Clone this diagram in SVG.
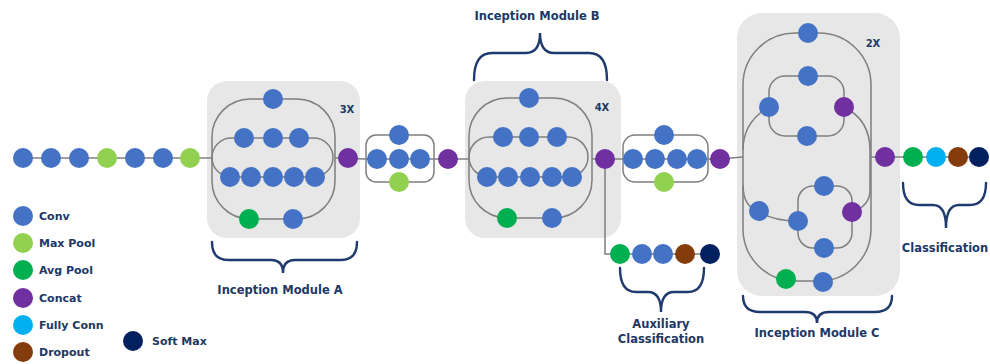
<svg xmlns="http://www.w3.org/2000/svg" width="990" height="364" viewBox="0 0 990 364">
<style>
.box{fill:#e7e7e7;stroke:none}
.ln{fill:none;stroke:#7f7f7f;stroke-width:1.5}
.br{fill:none;stroke:#1f3a6e;stroke-width:2.4;stroke-linecap:round}
.cv{fill:#4472c4}
.mp{fill:#92d050}
.ap{fill:#00b050}
.cc{fill:#7030a0}
.fc{fill:#00b0f0}
.dr{fill:#843c0c}
.sm{fill:#002060}
text{font-family:"DejaVu Sans","Liberation Sans",sans-serif;font-weight:bold;fill:#203864;font-size:11px}
.t{text-anchor:middle;font-size:11.5px}
.x{font-size:10px;text-anchor:middle}
</style>
<g id="modules-bg">
<rect class="box" x="207" y="81" width="153" height="157" rx="20"/>
<rect class="box" x="465" y="81" width="156" height="157" rx="20"/>
<rect class="box" x="737" y="13" width="163" height="283" rx="25"/>
</g>
<g id="connectors">
<line class="ln" x1="23" y1="158" x2="212" y2="158"/>
<rect class="ln" x="212" y="99" width="123" height="120" rx="38"/>
<rect class="ln" x="212" y="138" width="121" height="39" rx="19.5"/>
<line class="ln" x1="335" y1="158" x2="348" y2="158"/>
<line class="ln" x1="348" y1="158.5" x2="366" y2="159"/>
<rect class="ln" x="366" y="135" width="68" height="47" rx="10"/>
<line class="ln" x1="366" y1="159" x2="469" y2="159"/>
<rect class="ln" x="469" y="98" width="123" height="120" rx="38"/>
<rect class="ln" x="469" y="137" width="119" height="40" rx="20"/>
<line class="ln" x1="592" y1="159" x2="623" y2="159"/>
<path class="ln" d="M605,160 V254 H620"/>
<line class="ln" x1="620" y1="254" x2="710" y2="254"/>
<rect class="ln" x="623" y="135" width="85" height="47" rx="12"/>
<line class="ln" x1="623" y1="159" x2="720" y2="159"/>
<line class="ln" x1="720" y1="159" x2="743" y2="157"/>
<rect class="ln" x="743" y="33" width="128" height="248" rx="52"/>
<rect class="ln" x="769" y="76" width="75" height="60" rx="16"/>
<path class="ln" d="M769,107 Q743,122 743,150"/>
<path class="ln" d="M743,185 Q743,207 759,211 Q772,221 798,221"/>
<path class="ln" d="M844,107 Q870,120 870,150 L870,190 Q870,206 852,212"/>
<rect class="ln" x="798" y="186" width="54" height="62" rx="15"/>
<line class="ln" x1="871" y1="157" x2="979" y2="157"/>
</g>
<g id="braces">
<path class="br" d="M474,80 Q474,53 492,53 L526,53 Q540,53 540,33 Q540,53 554,53 L589,53 Q607,53 607,80"/>
<path class="br" d="M212,242 Q212,260 228,260 L271,260 Q283,260 283,273 Q283,260 295,260 L341,260 Q357,260 357,242"/>
<path class="br" d="M620,268 Q620,292 636,292 L648,292 Q661,292 661,312 Q661,292 674,292 L688,292 Q704,292 704,268"/>
<path class="br" d="M743,296 Q743,312 760,312 L805,312 Q817,312 817,323 Q817,312 829,312 L875,312 Q892,312 892,296"/>
<path class="br" d="M903,183 Q903,205 919,205 L933,205 Q946,205 946,228 Q946,205 959,205 L970,205 Q986,205 986,183"/>
</g>
<g id="stem">
<g id="s1"><circle class="cv" cx="23" cy="158" r="10"/></g>
<g id="s2"><circle class="cv" cx="51" cy="158" r="10"/></g>
<g id="s3"><circle class="cv" cx="79" cy="158" r="10"/></g>
<g id="s4"><circle class="mp" cx="107" cy="158" r="10"/></g>
<g id="s5"><circle class="cv" cx="135" cy="158" r="10"/></g>
<g id="s6"><circle class="cv" cx="163" cy="158" r="10"/></g>
<g id="s7"><circle class="mp" cx="190" cy="158" r="10"/></g>
</g>
<g id="moduleA">
<g id="a1"><circle class="cv" cx="273" cy="99" r="10"/></g>
<g id="a2"><circle class="cv" cx="244" cy="138" r="10"/></g>
<g id="a3"><circle class="cv" cx="273" cy="138" r="10"/></g>
<g id="a4"><circle class="cv" cx="299" cy="138" r="10"/></g>
<g id="a5"><circle class="cv" cx="230" cy="177" r="10"/></g>
<g id="a6"><circle class="cv" cx="251" cy="177" r="10"/></g>
<g id="a7"><circle class="cv" cx="273" cy="177" r="10"/></g>
<g id="a8"><circle class="cv" cx="294" cy="177" r="10"/></g>
<g id="a9"><circle class="cv" cx="315" cy="177" r="10"/></g>
<g id="a10"><circle class="ap" cx="249" cy="219" r="10"/></g>
<g id="a11"><circle class="cv" cx="293" cy="219" r="10"/></g>
<g id="a12"><circle class="cc" cx="348" cy="158" r="10"/></g>
<text class="x" x="347" y="113">3X</text>
</g>
<g id="reductionA">
<g id="r1"><circle class="cv" cx="399" cy="135" r="10"/></g>
<g id="r2"><circle class="cv" cx="377" cy="159" r="10"/></g>
<g id="r3"><circle class="cv" cx="399" cy="159" r="10"/></g>
<g id="r4"><circle class="cv" cx="420" cy="159" r="10"/></g>
<g id="r5"><circle class="mp" cx="399" cy="182" r="10"/></g>
<g id="r6"><circle class="cc" cx="448" cy="159" r="10"/></g>
</g>
<g id="moduleB">
<g id="b1"><circle class="cv" cx="529" cy="98" r="10"/></g>
<g id="b2"><circle class="cv" cx="503" cy="137" r="10"/></g>
<g id="b3"><circle class="cv" cx="529" cy="137" r="10"/></g>
<g id="b4"><circle class="cv" cx="557" cy="137" r="10"/></g>
<g id="b5"><circle class="cv" cx="487" cy="177" r="10"/></g>
<g id="b6"><circle class="cv" cx="508" cy="177" r="10"/></g>
<g id="b7"><circle class="cv" cx="530" cy="177" r="10"/></g>
<g id="b8"><circle class="cv" cx="552" cy="177" r="10"/></g>
<g id="b9"><circle class="cv" cx="572" cy="177" r="10"/></g>
<g id="b10"><circle class="ap" cx="507" cy="218" r="10"/></g>
<g id="b11"><circle class="cv" cx="552" cy="218" r="10"/></g>
<g id="b12"><circle class="cc" cx="605" cy="159" r="10"/></g>
<text class="x" x="602" y="111">4X</text>
</g>
<g id="aux">
<g id="x1"><circle class="ap" cx="620" cy="254" r="10"/></g>
<g id="x2"><circle class="cv" cx="642" cy="254" r="10"/></g>
<g id="x3"><circle class="cv" cx="663" cy="254" r="10"/></g>
<g id="x4"><circle class="dr" cx="685" cy="254" r="10"/></g>
<g id="x5"><circle class="sm" cx="710" cy="254" r="10"/></g>
</g>
<g id="reductionB">
<g id="q1"><circle class="cv" cx="664" cy="135" r="10"/></g>
<g id="q2"><circle class="cv" cx="633" cy="159" r="10"/></g>
<g id="q3"><circle class="cv" cx="655" cy="159" r="10"/></g>
<g id="q4"><circle class="cv" cx="677" cy="159" r="10"/></g>
<g id="q5"><circle class="cv" cx="697" cy="159" r="10"/></g>
<g id="q6"><circle class="mp" cx="664" cy="182" r="10"/></g>
<g id="q7"><circle class="cc" cx="720" cy="159" r="10"/></g>
</g>
<g id="moduleC">
<g id="c1"><circle class="cv" cx="808" cy="33" r="10"/></g>
<g id="c2"><circle class="cv" cx="808" cy="76" r="10"/></g>
<g id="c3"><circle class="cv" cx="769" cy="107" r="10"/></g>
<g id="c4"><circle class="cc" cx="844" cy="107" r="10"/></g>
<g id="c5"><circle class="cv" cx="807" cy="136" r="10"/></g>
<g id="c6"><circle class="cv" cx="824" cy="186" r="10"/></g>
<g id="c7"><circle class="cv" cx="759" cy="211" r="10"/></g>
<g id="c8"><circle class="cv" cx="798" cy="221" r="10"/></g>
<g id="c9"><circle class="cc" cx="852" cy="212" r="10"/></g>
<g id="c10"><circle class="cv" cx="824" cy="248" r="10"/></g>
<g id="c11"><circle class="ap" cx="786" cy="279" r="10"/></g>
<g id="c12"><circle class="cv" cx="823" cy="282" r="10"/></g>
<g id="c13"><circle class="cc" cx="885" cy="157" r="10"/></g>
<text class="x" x="873" y="47">2X</text>
</g>
<g id="classifier">
<g id="k1"><circle class="ap" cx="913" cy="157" r="10"/></g>
<g id="k2"><circle class="fc" cx="936" cy="157" r="10"/></g>
<g id="k3"><circle class="dr" cx="958" cy="157" r="10"/></g>
<g id="k4"><circle class="sm" cx="979" cy="157" r="10"/></g>
</g>
<g id="labels">
<text class="t" x="537" y="20">Inception Module B</text>
<text class="t" x="280" y="294">Inception Module A</text>
<text class="t" x="817" y="337">Inception Module C</text>
<text class="t" x="661" y="328">Auxiliary</text>
<text class="t" x="661" y="343">Classification</text>
<text class="t" x="945" y="252">Classification</text>
</g>
<g id="legend">
<g id="l1"><circle class="cv" cx="23" cy="216" r="10"/><text x="39" y="220">Conv</text></g>
<g id="l2"><circle class="mp" cx="23" cy="243" r="10"/><text x="39" y="247">Max Pool</text></g>
<g id="l3"><circle class="ap" cx="23" cy="270" r="10"/><text x="39" y="274">Avg Pool</text></g>
<g id="l4"><circle class="cc" cx="23" cy="298" r="10"/><text x="39" y="302">Concat</text></g>
<g id="l5"><circle class="fc" cx="23" cy="325" r="10"/><text x="39" y="329">Fully Conn</text></g>
<g id="l6"><circle class="dr" cx="23" cy="352" r="10"/><text x="39" y="356">Dropout</text></g>
<g id="l7"><circle class="sm" cx="133" cy="341" r="10"/><text x="152" y="345">Soft Max</text></g>
</g>
</svg>
